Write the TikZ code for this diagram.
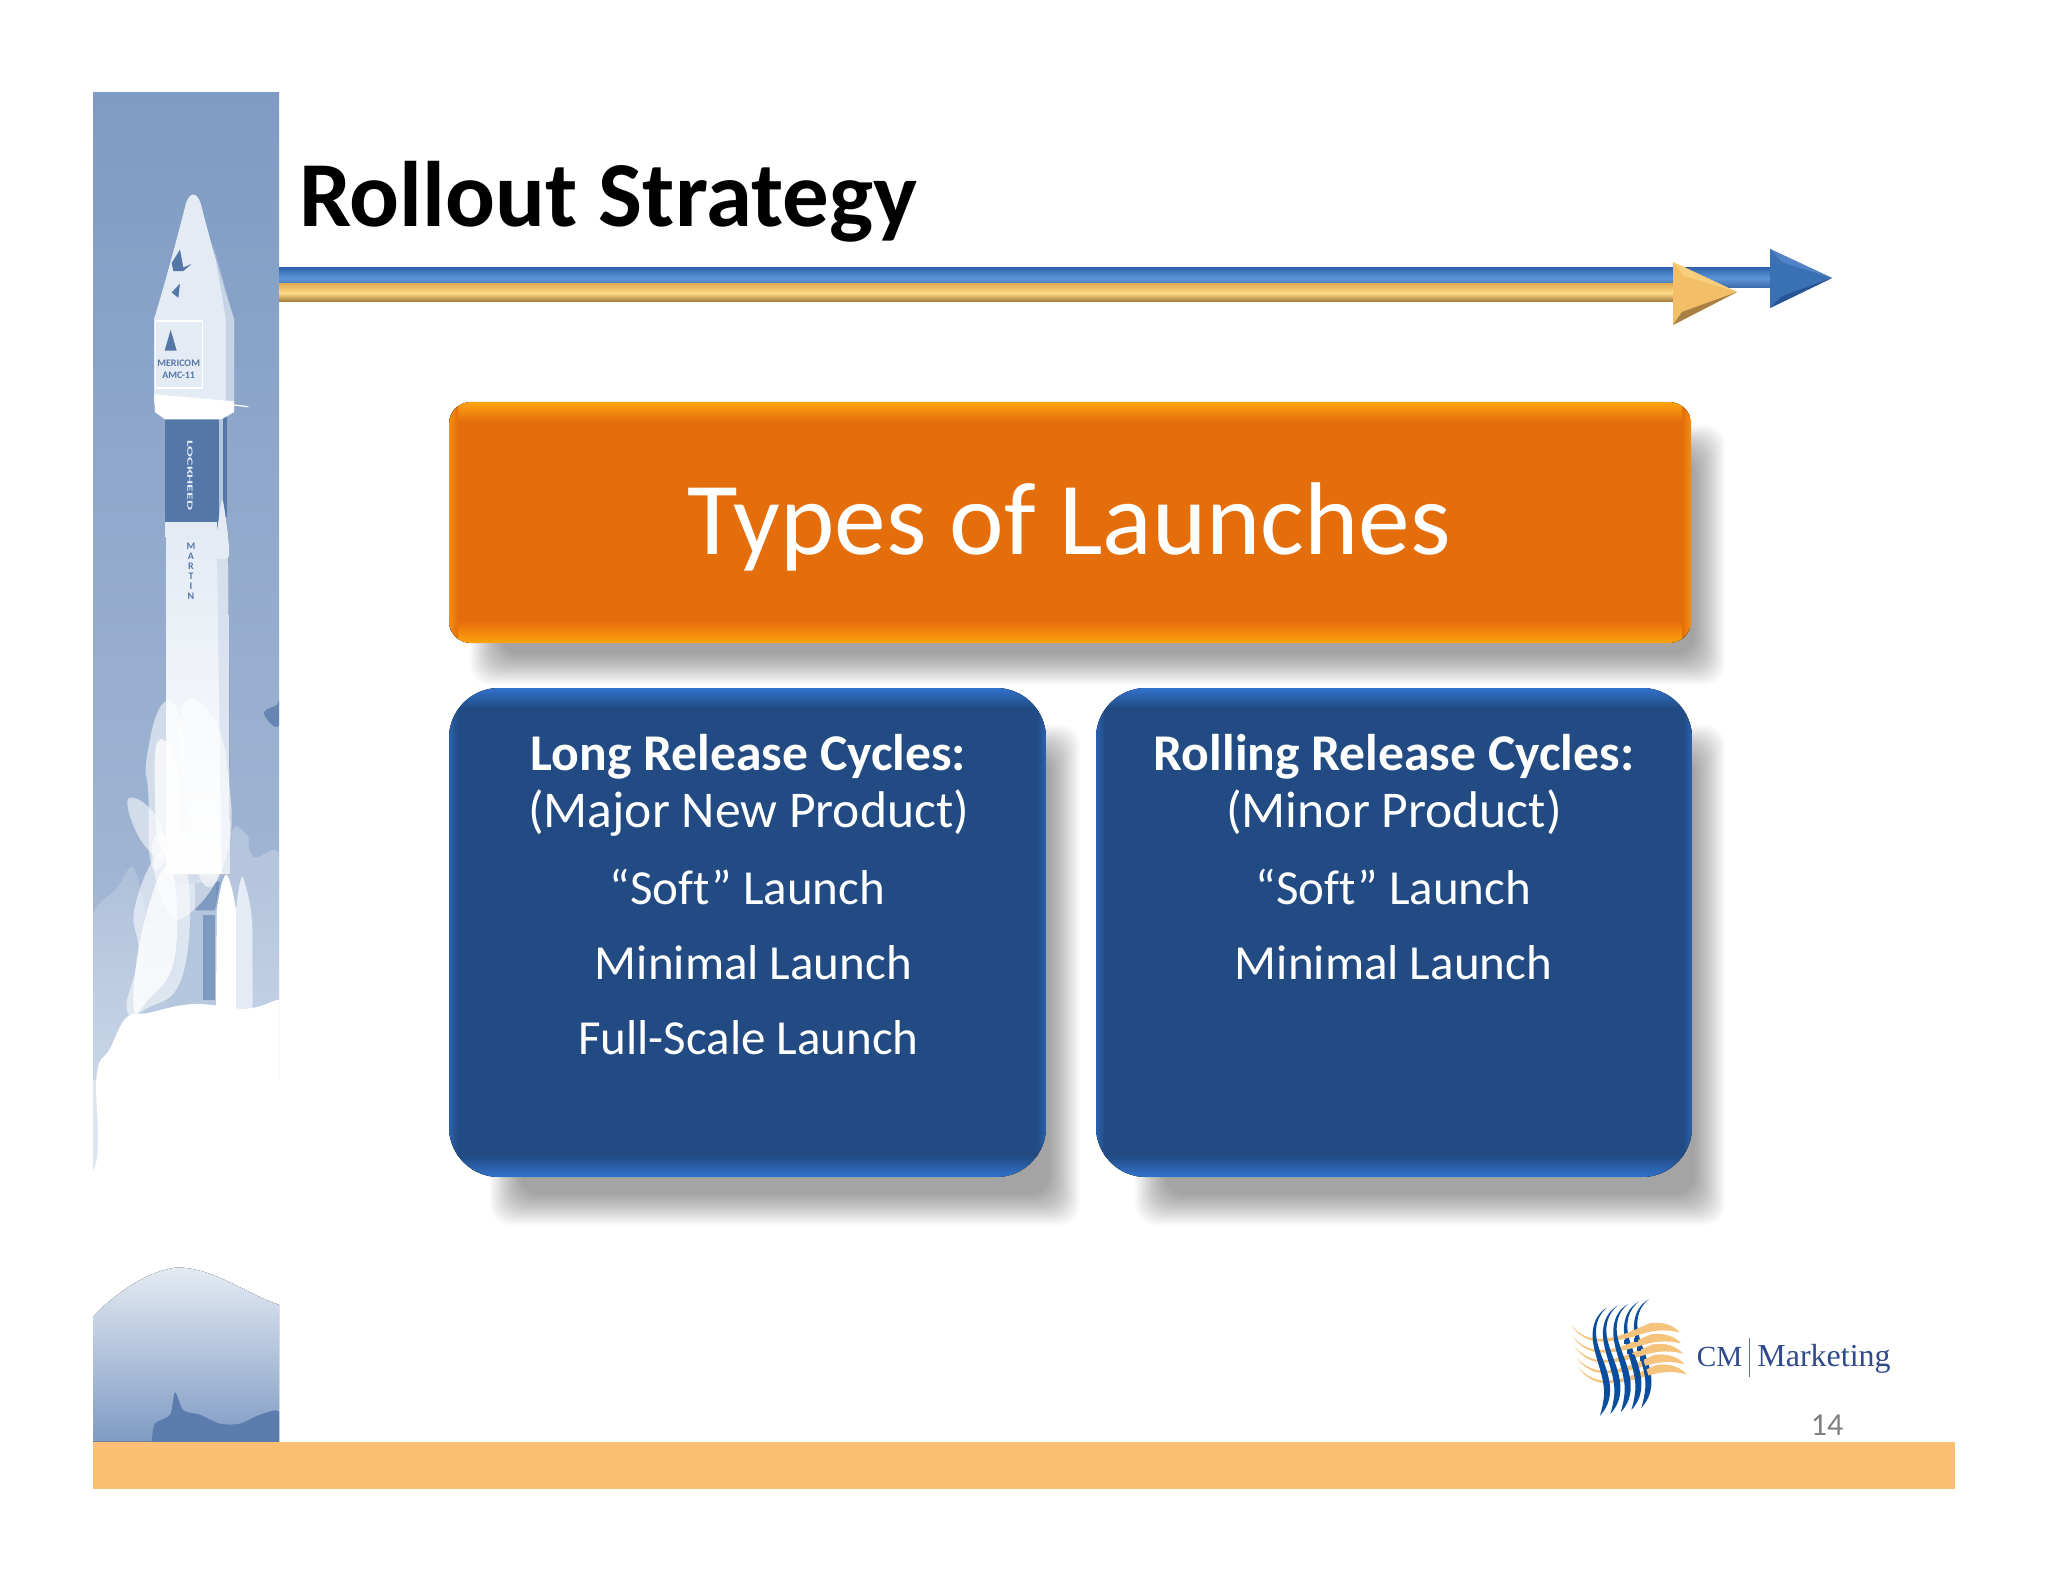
\documentclass[tikz,border=0pt]{standalone}
\usepackage{fontspec}
\usepackage{graphicx}
\setmainfont[Ligatures=NoCommon]{Carlito}
\newfontfamily\logofont{Liberation Serif}
\usetikzlibrary{calc}
\definecolor{barorange}{HTML}{FABF73}
\definecolor{sky}{HTML}{7F9BC3}
\definecolor{skylow}{HTML}{A0B5D3}
\definecolor{skypale}{HTML}{C9D6E8}
\definecolor{rockdark}{HTML}{5577A8}
\definecolor{rockmid}{HTML}{B4C6DE}
\definecolor{rocklight}{HTML}{E4EBF4}
\definecolor{boxorange}{HTML}{E56E0C}
\definecolor{edgeorange}{HTML}{FFA30F}
\definecolor{boxblue}{HTML}{214B82}
\definecolor{edgeblue}{HTML}{3272CC}
\definecolor{logoblue}{HTML}{0C4E9E}
\definecolor{logogold}{HTML}{F6C37C}
\definecolor{logotext}{HTML}{2F4A8C}
\definecolor{shafttopb}{HTML}{2F66AE}
\definecolor{shaftmidb}{HTML}{5E95D8}
\definecolor{shaftbotb}{HTML}{3A6AA8}
\definecolor{shafttopg}{HTML}{E0AE58}
\definecolor{shaftmidg}{HTML}{FFDC84}
\definecolor{shaftbotg}{HTML}{9C7438}
\tikzset{
  boxtext/.style={text=white,anchor=base,inner sep=0pt,font=\fontsize{24.5}{29}\selectfont},
  boxhead/.style={text=white,anchor=base,inner sep=0pt,font=\fontsize{25.8}{30}\selectfont\bfseries},
  boxsub/.style={text=white,anchor=base,inner sep=0pt,font=\fontsize{25.8}{30}\selectfont},
  rockettext/.style={inner sep=0pt,text=rockdark,font=\fontsize{5}{5.4}\selectfont\bfseries},
  smoke/.style={fill=white},
}
\newcommand{\softshd}[4]{%
  \foreach \i in {0,...,19}
    \fill[black,opacity=.019,rounded corners=10pt]
      ({#1+1.6*\i},{#2+1.6*\i}) rectangle ({#3-1.6*\i},{#4-1.6*\i});}
\newcommand{\bevelbox}[7]{% x1 y1 x2 y2 radius base edge
  \begin{scope}
    \clip[rounded corners=#5] (#1,#2) rectangle (#3,#4);
    \fill[#6] (#1,#2) rectangle (#3,#4);
    \fill[top color=#7,bottom color=#6,draw=none] (#1,#2) rectangle (#3,{#2+20});
    \fill[top color=#6,bottom color=#7,draw=none] (#1,{#4-22}) rectangle (#3,#4);
    \fill[left color=#7!60!#6,right color=#6,draw=none] (#1,#2) rectangle ({#1+9},#4);
    \fill[left color=#6,right color=#7!60!#6,draw=none] ({#3-9},#2) rectangle (#3,#4);
  \end{scope}}
\begin{document}
\begin{tikzpicture}[x=0.5pt,y=-0.5pt]
\useasboundingbox (0,0) rectangle (2048,1582);
\fill[white] (0,0) rectangle (2048,1582);

% ---- rocket panel, drawn in a local frame
\begin{scope}
\clip (93,93) rectangle (279,1443);
\begin{scope}[shift={(80,80)},x=0.16667pt,y=-0.4464pt]
  \fill[top color=sky,bottom color=skylow] (39,13) rectangle (598,900);
  \fill[top color=skylow,bottom color=skypale] (39,900) rectangle (598,1120);
  % far clouds
  \fill[skypale,opacity=.4] plot[smooth cycle,tension=.8] coordinates {(20,960)(110,905)(170,890)(200,1000)(120,1080)(20,1100)};
  \fill[skypale,opacity=.5] plot[smooth cycle,tension=.8] coordinates {(450,850)(500,845)(520,870)(610,880)(610,1040)(500,1040)(450,960)};
  \fill[rockdark,opacity=.75] plot[smooth cycle,tension=.6] coordinates {(552,708)(590,700)(598,695)(598,722)(575,722)};
  % rocket body
  \fill[top color=rocklight,bottom color=white] (258,505) -- (445,505) -- (450,890) -- (258,890) -- cycle;
  \fill[rockmid,opacity=.35] (410,505) -- (445,505) -- (450,890) -- (425,890) -- cycle;
  % upper stage
  \fill[rockdark] (255,378) rectangle (416,505);
  \fill[rockmid] (416,378) rectangle (428,492);
  \fill[rockdark] (428,378) rectangle (440,490);
  \fill[rocklight] plot[smooth cycle,tension=.4] coordinates {(427,470)(445,515)(445,535)(408,535)(408,515)};
  \fill[rocklight] (255,495) rectangle (410,512);
  \node[rockettext,text=rocklight,rotate=-90,font=\fontsize{4}{4.4}\selectfont\bfseries] (lockheed) at (330,443) {\scalebox{2}[1]{LOCKHEED}};
  % fairing
  \fill[rocklight] (222,268) .. controls (255,228) and (295,172) .. (318,138) .. controls (330,125) and (350,125) .. (362,138) .. controls (390,180) and (428,228) .. (462,268) -- (462,362) -- (222,362) -- cycle;
  \fill[rockmid,opacity=.6] (400,185) -- (462,268) -- (462,362) -- (438,362) -- (438,268) -- cycle;
  \fill[white] (222,352) -- (462,360) -- (462,372) -- (425,380) -- (255,380) -- (225,372) -- cycle;
  \draw[white,line width=.6pt] (462,364) -- (505,366);
  \fill[rockdark] (275,205) -- (300,190) -- (310,210) -- (335,206) -- (310,214) -- (280,214) -- cycle;
  \fill[rockdark] (275,238) -- (300,228) -- (295,244) -- cycle;
  \draw[white,line width=.7pt,fill=rocklight] (226,270) rectangle (368,345);
  \fill[rockdark] (272,280) -- (290,303) -- (254,303) -- cycle;
  \node[rockettext] (amctext) at (296,324) {\shortstack{MERICOM\\AMC-11}};
  \node[rockettext] (martintext) at (333,550) {\shortstack{M\\[-1.2pt]A\\[-1.2pt]R\\[-1.2pt]T\\[-1.2pt]I\\[-1.2pt]N}};
  % lower stage and boosters
  \fill[rockmid] (290,900) rectangle (408,1032);
  \fill[rockdark,opacity=.55] (345,900) -- (420,898) -- (405,930) -- (345,930) -- cycle;
  \fill[rockdark,opacity=.55] (370,935) rectangle (405,1030);
  \fill[rockmid] (268,1010) rectangle (340,1038);
  \fill[white] (408,1040) -- (410,930) .. controls (420,905) and (430,890) .. (440,890) .. controls (450,895) and (460,910) .. (468,930) -- (468,1040) -- cycle;
  \fill[rocklight] (468,1040) -- (468,930) .. controls (475,905) and (482,892) .. (488,892) .. controls (500,905) and (515,925) .. (517,950) -- (518,1040) -- cycle;
  % plume
  \foreach \pts in {
     {(245,700)(300,715)(310,780)(270,860)(215,880)(205,800)(200,760)},
     {(145,805)(230,825)(250,870)(180,850)},
     {(165,925)(250,860)(320,880)(310,1000)(200,1040)(140,1040)(175,980)},
     {(310,700)(400,715)(445,780)(445,860)(370,900)(310,790)},
     {(220,850)(330,860)(420,880)(340,930)(260,930)}}{
    \fill[smoke,opacity=.55] plot[smooth cycle,tension=.8] coordinates \pts;
  }
  \foreach \pts in {
     {(235,740)(290,770)(290,850)(240,860)(225,800)},
     {(195,940)(270,880)(285,980)(205,1030)(160,1035)}}{
    \fill[smoke,opacity=.75] plot[smooth cycle,tension=.8] coordinates \pts;
  }
  % main cloud
  \fill[skypale,opacity=.6] (39,1100) rectangle (60,1230);
  \fill[white] plot[smooth cycle,tension=.7] coordinates {(50,1115)(90,1085)(140,1050)(205,1045)(340,1035)(500,1040)(598,1030)(660,1030)(660,1400)(300,1410)(-20,1410)(-20,1260)(50,1210)};
  % low cloud and ground
  \fill[top color=skypale!50!white,bottom color=sky] (39,1385) .. controls (120,1355) and (200,1335) .. (290,1330) .. controls (400,1330) and (500,1360) .. (598,1372) -- (598,1525) -- (39,1525) -- cycle;
  \fill[rockdark!85!sky] plot[smooth cycle,tension=.5] coordinates {(215,1525)(225,1505)(270,1495)(285,1470)(310,1490)(360,1495)(420,1505)(480,1505)(540,1495)(598,1492)(598,1530)(215,1530)};
\end{scope}
\end{scope}
\fill[barorange] (93,1442) rectangle (1955,1489);

% ---- title
\node[anchor=base,inner sep=0pt,font=\fontsize{46.5}{54}\selectfont\bfseries] (title) at (608,227) {Rollout Strategy};

% ---- double arrow
\fill[top color=shafttopb,bottom color=shaftbotb,middle color=shaftmidb] (279,268) rectangle (1780,288);
\fill[top color=shafttopg,bottom color=shaftbotg,middle color=shaftmidg] (279,284) rectangle (1685,302);
\coordinate (bluetop) at (1770,249); \coordinate (bluebot) at (1770,308);
\coordinate (bluetip) at (1832,278); \coordinate (bluemid) at (1790,278);
\fill[fill={rgb,255:red,58;green,112;blue,180}] (bluetop) -- (bluetip) -- (bluebot) -- cycle;
\fill[fill={rgb,255:red,80;green,132;blue,196}] (bluetop) -- (bluetip) -- (1782,262) -- cycle;
\fill[fill={rgb,255:red,38;green,84;blue,148}] (bluebot) -- (bluetip) -- (1782,296) -- cycle;
\coordinate (goldtop) at (1673,262); \coordinate (goldbot) at (1673,325);
\coordinate (goldtip) at (1737,292); \coordinate (goldmid) at (1686,292);
\fill[fill={rgb,255:red,242;green,190;blue,104}] (goldtop) -- (goldtip) -- (goldbot) -- cycle;
\fill[fill={rgb,255:red,168;green,128;blue,68}] (goldbot) -- (goldtip) -- (1682,312) -- cycle;
\fill[fill={rgb,255:red,248;green,206;blue,124}] (goldtop) -- (goldtip) -- (1684,276) -- cycle;

% ---- shadows
\softshd{470}{425}{1725}{685}
\softshd{490}{725}{1080}{1225}
\softshd{1135}{725}{1725}{1225}

% ---- boxes
\bevelbox{449}{402}{1691}{643}{11pt}{boxorange}{edgeorange}
\bevelbox{449}{688}{1046}{1177}{25pt}{boxblue}{edgeblue}
\bevelbox{1096}{688}{1692}{1177}{25pt}{boxblue}{edgeblue}
\node[anchor=base,inner sep=0pt,text=white,font=\fontsize{51.7}{60}\selectfont] (types) at (1069.5,554) {Types of Launches};

\node[boxhead] (lhead) at (748.5,770) {Long Release Cycles:};
\node[boxsub] (lsub) at (748.5,827) {(Major New Product)};
\node[boxtext] (lsoft) at (747.5,904) {“Soft” Launch};
\node[boxtext] (lmin) at (753.5,979) {Minimal Launch};
\node[boxtext] (lfull) at (748.5,1054) {Full-Scale Launch};

\node[boxhead] (rhead) at (1394,770) {Rolling Release Cycles:};
\node[boxsub] (rsub) at (1394,827) {(Minor Product)};
\node[boxtext] (rsoft) at (1393.5,904) {“Soft” Launch};
\node[boxtext] (rmin) at (1393.5,979) {Minimal Launch};

% ---- logo, in a local frame
\begin{scope}[shift={(1540,1270)},x=0.16667pt,y=-0.16667pt]
  \newcommand{\goldwaves}{%
  \foreach \dx/\dy in {0/0,4/33,9/63,14/95,20/125}{
    \fill[logogold,shift={(\dx,\dy)}] (95,166) .. controls (115,190) and (140,205) .. (172,207)
      .. controls (225,208) and (270,185) .. (330,160) .. controls (365,155) and (400,165) .. (418,187)
      .. controls (385,178) and (350,178) .. (310,190) .. controls (265,205) and (215,218) .. (170,214)
      .. controls (135,210) and (110,190) .. (95,166) -- cycle;
  }}
  \goldwaves
  \foreach \dx/\dy in {0/0,31/-5,62/-10,94/-17,124/-24}{
    \fill[logoblue,shift={(\dx,\dy)}] (202,112) .. controls (170,130) and (155,165) .. (158,205)
      .. controls (162,260) and (195,320) .. (192,375) .. controls (190,400) and (185,420) .. (180,437)
      .. controls (200,415) and (212,390) .. (210,350) .. controls (205,290) and (170,240) .. (168,190)
      .. controls (167,155) and (180,130) .. (202,112) -- cycle;
  }
  \begin{scope}
    \clip (238,150) -- (460,150) -- (460,330) -- (330,330) -- (310,270) -- (250,235) -- cycle;
    \goldwaves
  \end{scope}
  \foreach \px/\py in {252/210,283/205,262/240,292/232,300/262}
    \fill[logoblue] (\px,\py) rectangle ++(12,11);
\end{scope}
\coordinate (bartop) at (1749.5,1338);
\coordinate (barbot) at (1749.5,1377);
\draw[draw={rgb,255:red,90;green,115;blue,152},line width=.9pt] (bartop) -- (barbot);
\node[anchor=base,inner sep=0pt,text=logotext,font=\logofont\fontsize{14.6}{17}\selectfont] (cm) at (1719.5,1366) {CM};
\node[anchor=base,inner sep=0pt,text=logotext,font=\logofont\fontsize{16}{19}\selectfont] (mk) at (1824,1366) {Marketing};
\node[anchor=base,inner sep=0pt,text={rgb,255:red,128;green,128;blue,128},font=\fontsize{16}{19}\selectfont] (page) at (1827,1435) {14};
\end{tikzpicture}
\end{document}
